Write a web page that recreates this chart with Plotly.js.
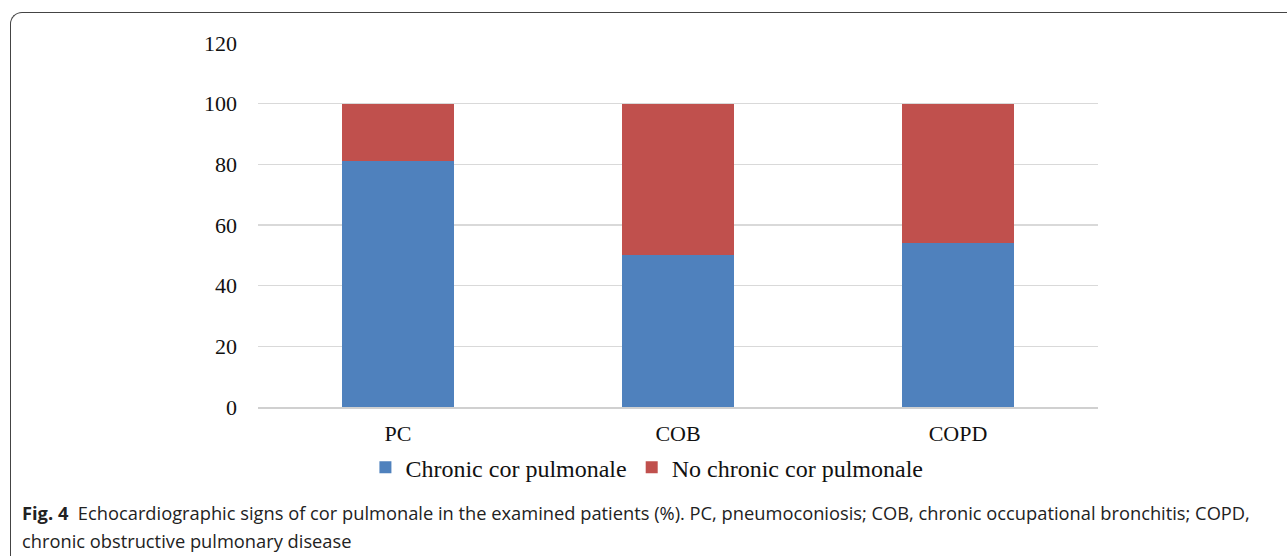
<!DOCTYPE html>
<html>
<head>
<meta charset="utf-8">
<script src="https://cdn.plot.ly/plotly-3.0.1.min.js"></script>
<style>
  html, body { margin: 0; padding: 0; background: #fff; }
  #wrap { position: relative; width: 1287px; height: 556px; overflow: hidden; }
  #frame { position: absolute; left: 10px; top: 12px; width: 1300px; height: 600px;
           border-left: 1.5px solid #444; border-top: 1.5px solid #444; border-top-left-radius: 12px; box-sizing: border-box; }
  #chart { position: absolute; left: 0; top: 0; width: 1287px; height: 556px; }
</style>
</head>
<body>
<div id="wrap">
  <div id="frame"></div>
  <div id="chart"></div>
</div>
<script>
const categories = ["PC", "COB", "COPD"];
const chronicCorPulmonale = [81, 50, 54];
const noChronicCorPulmonale = [19, 50, 46];
const seriesNames = ["Chronic cor pulmonale", "No chronic cor pulmonale"];
const yTicks = [0, 20, 40, 60, 80, 100, 120];

const serif = "Liberation Serif, Times New Roman, serif";
const sans = "Open Sans, Noto Sans, sans-serif";

const traces = [
  { type: "bar", x: categories, y: chronicCorPulmonale, name: seriesNames[0],
    marker: { color: "#4F81BD" }, width: 0.4 },
  { type: "bar", x: categories, y: noChronicCorPulmonale, name: seriesNames[1],
    marker: { color: "#C0504D" }, width: 0.4 }
];

const captionFont = { family: sans, size: 18.3, color: "#222" };

const layout = {
  width: 1287, height: 556,
  paper_bgcolor: "rgba(0,0,0,0)", plot_bgcolor: "rgba(0,0,0,0)",
  margin: { l: 258, r: 189, t: 43, b: 149 },
  barmode: "stack",
  showlegend: true,
  legend: { orientation: "h", x: 0.463, xanchor: "center", y: -0.105, yanchor: "top",
            traceorder: "normal",
            font: { family: serif, size: 24, color: "#111" }, itemwidth: 30, tracegroupgap: 0 },
  xaxis: { showgrid: false, showline: true, linecolor: "#d0d0d0", linewidth: 1.5,
           ticks: "", ticklabelstandoff: 6,
           tickfont: { family: serif, size: 22, color: "#111" }, fixedrange: true },
  yaxis: { range: [0, 120], tickvals: yTicks, ticktext: yTicks.map(String),
           showgrid: true, gridcolor: "#d9d9d9", gridwidth: 1.5, zeroline: false,
           ticks: "", ticklabelstandoff: 20,
           tickfont: { family: serif, size: 22, color: "#111" }, fixedrange: true },
  annotations: [
    { xref: "paper", yref: "paper", x: -0.283, y: -0.291, xanchor: "left", yanchor: "middle",
      align: "left", showarrow: false, font: captionFont,
      text: "<b>Fig. 4</b>  Echocardiographic signs of cor pulmonale in the examined patients (%). PC, pneumoconiosis; COB, chronic occupational bronchitis; COPD," },
    { xref: "paper", yref: "paper", x: -0.283, y: -0.368, xanchor: "left", yanchor: "middle",
      align: "left", showarrow: false, font: captionFont,
      text: "chronic obstructive pulmonary disease" }
  ]
};

Plotly.newPlot("chart", traces, layout, { displayModeBar: false, staticPlot: true });
</script>
</body>
</html>
